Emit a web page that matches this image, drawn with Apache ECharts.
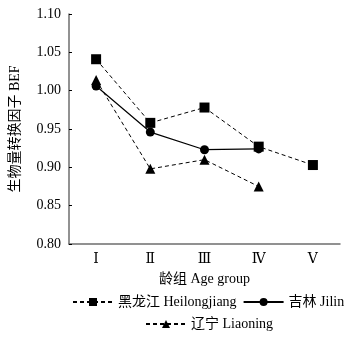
<!DOCTYPE html>
<html>
<head>
<meta charset="utf-8">
<script src="https://cdn.jsdelivr.net/npm/echarts@6/dist/echarts.min.js"></script>
<style>
  html, body { margin: 0; padding: 0; background: #fff; }
  #chart { width: 349px; height: 337px; }
</style>
</head>
<body>
<div id="chart"></div>
<script>
// 龄组
const ageGroups = ['Ⅰ', 'Ⅱ', 'Ⅲ', 'Ⅳ', 'Ⅴ'];
// 各省 BEF
const heilongjiang = [1.041, 0.958, 0.978, 0.927, 0.903];
const jilin = [1.006, 0.946, 0.923, 0.924, null];
const liaoning = [1.014, 0.898, 0.910, 0.875, null];

const seriesNames = ['黑龙江 Heilongjiang', '吉林 Jilin', '辽宁 Liaoning'];

const fontFam = '"Liberation Serif", "Noto Sans CJK SC", serif';
const axisColor = '#6e6e6e';

const chart = echarts.init(document.getElementById('chart'));

const legendBase = {
  orient: 'horizontal',
  width: 330,
  padding: 0,
  itemWidth: 40,
  itemHeight: 10,
  itemGap: 6,
  textStyle: { color: '#000', fontSize: 14, fontFamily: fontFam },
};

chart.setOption({
  animation: false,
  backgroundColor: '#fff',
  grid: { left: 68, right: 9, top: 14, bottom: 93 },
  legend: [
    Object.assign({}, legendBase, { data: [seriesNames[0], seriesNames[1]], left: 72, top: 295 }),
    Object.assign({}, legendBase, { data: [seriesNames[2]], left: 145, top: 317 }),
  ],
  xAxis: {
    type: 'category',
    data: ageGroups,
    boundaryGap: true,
    name: '龄组 Age group',
    nameLocation: 'middle',
    nameGap: 28,
    nameTextStyle: { color: '#000', fontSize: 14, fontFamily: fontFam },
    axisLine: { lineStyle: { color: axisColor, width: 1.5 } },
    axisTick: { inside: true, length: 4, lineStyle: { color: '#000' } },
    axisLabel: { color: '#000', fontSize: 14, fontFamily: '"DejaVu Serif", "Liberation Serif", serif', margin: 8 },
  },
  yAxis: {
    type: 'value',
    min: 0.8,
    max: 1.1,
    interval: 0.05,
    name: '生物量转换因子 BEF',
    nameLocation: 'middle',
    nameRotate: 90,
    nameGap: 47,
    nameTextStyle: { color: '#000', fontSize: 14, fontFamily: fontFam },
    splitLine: { show: false },
    axisLine: { show: true, lineStyle: { color: axisColor, width: 1.5 } },
    axisTick: { show: true, inside: true, length: 3, lineStyle: { color: '#000' } },
    axisLabel: {
      color: '#000', fontSize: 14, fontFamily: fontFam, margin: 8,
      formatter: v => v.toFixed(2),
    },
  },
  series: [
    {
      name: seriesNames[0],
      type: 'line',
      data: heilongjiang,
      symbol: 'rect',
      symbolSize: 10,
      itemStyle: { color: '#000' },
      lineStyle: { color: '#000', width: 1, type: [4, 3] },
    },
    {
      name: seriesNames[1],
      type: 'line',
      data: jilin,
      symbol: 'circle',
      symbolSize: 9,
      itemStyle: { color: '#000' },
      lineStyle: { color: '#000', width: 1.2, type: 'solid' },
    },
    {
      name: seriesNames[2],
      type: 'line',
      data: liaoning,
      symbol: 'triangle',
      symbolSize: 10,
      itemStyle: { color: '#000' },
      lineStyle: { color: '#000', width: 1, type: [4, 3] },
    },
  ],
});
</script>
</body>
</html>
